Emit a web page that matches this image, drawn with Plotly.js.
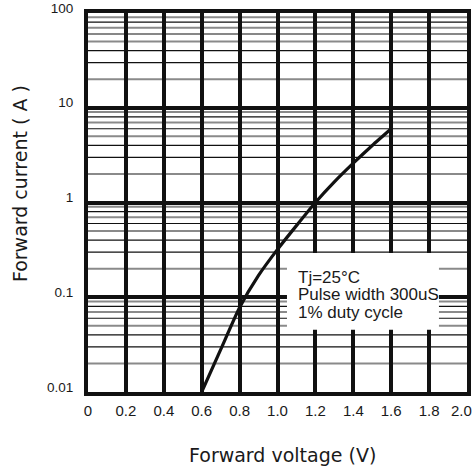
<!DOCTYPE html>
<html>
<head>
<meta charset="utf-8">
<script src="https://cdn.plot.ly/plotly-3.0.1.min.js"></script>
<style>html,body{margin:0;padding:0;background:#fff;}</style>
</head>
<body>
<div id="chart" style="width:474px;height:468px;"></div>
<script>
// Data
var voltage = [0.6, 0.7, 0.8, 0.9, 1.0, 1.1, 1.2, 1.3, 1.4, 1.5, 1.6];
var current = [0.01, 0.028, 0.078, 0.17, 0.32, 0.57, 1.0, 1.65, 2.6, 4.0, 6.0];
var xTickVals = [0, 0.2, 0.4, 0.6, 0.8, 1.0, 1.2, 1.4, 1.6, 1.8, 2.0];
var xTickText = ['0', '0.2', '0.4', '0.6', '0.8', '1.0', '1.2', '1.4', '1.6', '1.8', '2.0'];
var yTickVals = [0.01, 0.1, 1, 10, 100];
var yTickText = ['0.01', '0.1', '1', '10', '100'];
var decades = [0.01, 0.1, 1, 10];
var minorGray = [2, 5, 7, 9];
var minorBlack = [3, 4, 6, 8];
var noteLines = ['Tj=25\u00B0C', 'Pulse width 300uS', '1% duty cycle'];

var tickFontX = {family: 'Liberation Sans Narrow, Liberation Sans, Arial, sans-serif', size: 15, color: '#1a1a1a'};

var shapes = [];
decades.forEach(function (d) {
  minorGray.forEach(function (m) {
    shapes.push({type: 'line', layer: 'below', xref: 'paper', x0: 0, x1: 1, yref: 'y', y0: d * m, y1: d * m,
      line: {color: '#8a8a8a', width: 2}});
  });
  minorBlack.forEach(function (m) {
    shapes.push({type: 'line', layer: 'below', xref: 'paper', x0: 0, x1: 1, yref: 'y', y0: d * m, y1: d * m,
      line: {color: '#111', width: 1.2}});
  });
});
// white note box
shapes.push({type: 'rect', layer: 'above', xref: 'paper', yref: 'paper', x0: 0.525, x1: 0.926, y0: 0.164, y1: 0.367,
  fillcolor: '#fff', line: {width: 0}});

var noteY = [0.303, 0.256, 0.211];
var annotations = noteLines.map(function (t, i) {
  return {text: t, xref: 'paper', yref: 'paper', x: 0.549, y: noteY[i], xanchor: 'left', yanchor: 'middle',
    showarrow: false, font: {family: 'Liberation Sans, Arial, sans-serif', size: 17, color: '#1a1a1a'}};
});
// last x tick label (kept inside the figure, as in the reference)
annotations.push({text: xTickText[xTickText.length - 1], xref: 'x', yref: 'paper',
  x: xTickVals[xTickVals.length - 1], y: -0.0475, xanchor: 'center', yanchor: 'middle', xshift: -6,
  showarrow: false, font: tickFontX});
annotations.push({text: 'Forward voltage (V)', xref: 'paper', yref: 'paper', x: 0.5145, y: -0.166,
  xanchor: 'center', yanchor: 'middle', showarrow: false,
  font: {family: 'DejaVu Sans, sans-serif', size: 19, color: '#1a1a1a'}});
annotations.push({text: 'Forward current ( A )', xref: 'paper', yref: 'paper', x: -0.179, y: 0.549,
  xanchor: 'center', yanchor: 'middle', textangle: -90, showarrow: false,
  font: {family: 'DejaVu Sans, sans-serif', size: 19, color: '#1a1a1a'}});

var trace = {
  x: voltage, y: current, type: 'scatter', mode: 'lines',
  line: {color: '#111', width: 3.2, shape: 'spline', smoothing: 0.6},
  hoverinfo: 'skip'
};

var layout = {
  width: 474, height: 468,
  margin: {l: 88, r: 7, t: 13, b: 76},
  paper_bgcolor: '#fff', plot_bgcolor: '#fff',
  showlegend: false,
  xaxis: {
    range: [0, 2.0], tickvals: xTickVals.slice(0, -1), ticktext: xTickText.slice(0, -1),
    showgrid: true, gridcolor: '#111', gridwidth: 4,
    showline: true, linecolor: '#111', linewidth: 4, mirror: true,
    zeroline: false, ticks: '', ticklabelstandoff: 2,
    tickfont: tickFontX
  },
  yaxis: {
    type: 'log', range: [-2, 2], tickvals: yTickVals, ticktext: yTickText,
    showgrid: true, gridcolor: '#111', gridwidth: 4,
    showline: true, linecolor: '#111', linewidth: 4, mirror: true,
    zeroline: false, ticks: '', ticklabelstandoff: 8, ticklabelshift: -5,
    tickfont: {family: 'Liberation Sans, Arial, sans-serif', size: 13.5, color: '#1a1a1a'}
  },
  shapes: shapes,
  annotations: annotations
};

Plotly.newPlot('chart', [trace], layout, {displayModeBar: false, staticPlot: true});
</script>
</body>
</html>
